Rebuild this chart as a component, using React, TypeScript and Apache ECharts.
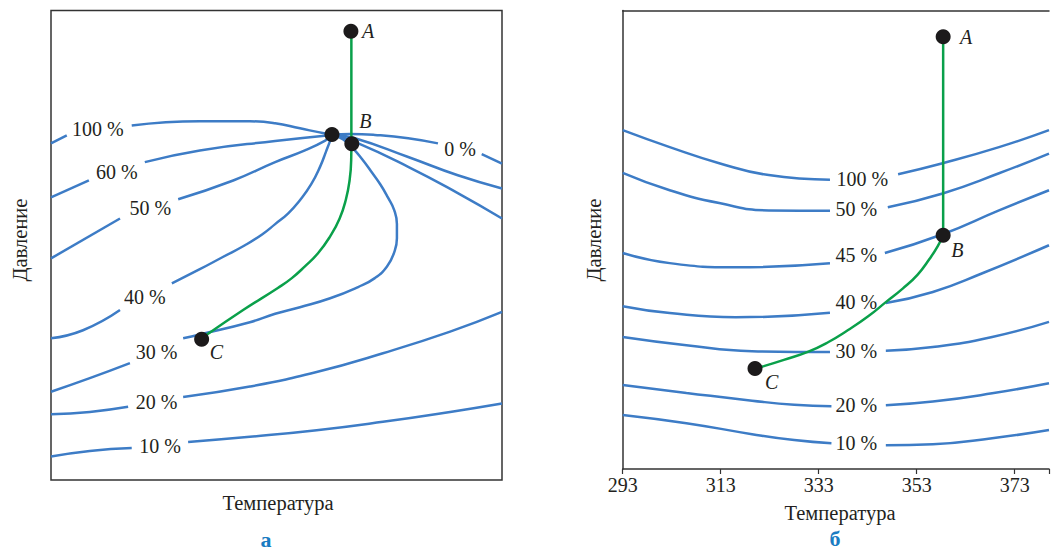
import React, { useEffect, useRef } from 'react';
import * as echarts from 'echarts';

const FONT = 'Liberation Serif, DejaVu Serif, serif';
const BLUE = '#3d7cc6';
const GREEN = '#0aa04a';
const INK = '#231f20';
const DOT = '#1c1a1b';
const LETTER_BLUE = '#1a7cc2';
const AXIS = '#333333';

// Right panel temperature axis
const T0 = 293;
const T_MAX = 380;
const X_TICKS = [293, 313, 333, 353, 373];

// ---------- Panel а (relative temperature 0..100, relative pressure 0..100) ----------
const A_100 = [[[0, 71.7], [3.5, 73.4]], [[17.9, 75.5], [33.0, 76.4], [44.1, 76.4], [49.7, 76.0], [55.2, 74.9], [60.8, 73.8], [62.3, 73.6]]];
const A_60 = [[[0, 60.2], [8.4, 63.8]], [[20.8, 67.7], [33.0, 70.2], [49.7, 72.2], [62.3, 73.5]]];
const A_50 = [[[0, 47.2], [15.3, 55.7]], [[28.2, 59.8], [40.4, 63.8], [49.7, 67.7], [56.3, 70.2], [60.8, 72.3], [62.3, 73.4]]];
const A_40 = [[[0, 30.2], [7.1, 31.9], [15.3, 36.2]], [[26.8, 41.9], [33.0, 44.9], [38.1, 47.5], [43.0, 50.0], [46.8, 52.3], [49.7, 54.5], [52.6, 56.8], [55.2, 59.6], [57.7, 63.0], [59.7, 66.8], [61.0, 70.0], [61.9, 72.3], [62.3, 73.5]]];
const A_30 = [[[0, 18.8], [8.6, 21.7], [17.5, 24.9]], [[29.3, 30.2], [33.0, 31.0], [44.1, 33.6], [49.7, 35.4], [55.2, 36.8], [61.9, 38.7], [68.1, 41.1], [71.8, 43.0], [74.5, 45.5], [76.1, 48.5], [76.7, 51.5], [76.7, 54.5], [76.1, 57.5], [74.7, 60.2], [73.0, 63.0], [71.0, 65.7], [69.0, 68.3], [67.0, 70.6], [64.7, 72.6], [62.3, 73.5]]];
const A_20 = [[[0, 14.0], [8.6, 14.5], [17.1, 15.6]], [[29.3, 17.7], [44.1, 19.9], [58.9, 23.0], [73.6, 27.0], [88.5, 31.6], [100, 35.8]]];
const A_10 = [[[0, 5.0], [8.6, 6.2], [17.9, 6.8]], [[30.4, 8.1], [44.1, 9.2], [58.9, 10.6], [73.6, 12.4], [88.5, 14.5], [100, 16.3]]];
const A_0 = [[[62.3, 73.6], [66.3, 73.7], [71.8, 73.5], [79.2, 72.8], [85.8, 71.7]], [[95.5, 69.4], [100, 67.4]]];
const A_R2 = [[[62.3, 73.6], [67.4, 72.8], [79.2, 68.8], [90.2, 64.9], [100, 62.1]]];
const A_R3 = [[[62.3, 73.6], [67.4, 72.0], [79.2, 66.7], [90.2, 61.1], [100, 55.7]]];
const A_CURVES = [A_100, A_60, A_50, A_40, A_30, A_20, A_10, A_0, A_R2, A_R3];

const A_TAGS = [
  ['100 %', 10.4, 74.7], ['60 %', 14.6, 65.7], ['50 %', 22.0, 57.9], ['40 %', 20.8, 38.9],
  ['30 %', 23.4, 27.3], ['20 %', 23.4, 16.7], ['10 %', 24.2, 7.3], ['0 %', 90.7, 70.6],
];
const A_DOTS = [[66.5, 95.6], [62.3, 73.6], [66.7, 71.6], [33.4, 30.0]];
const A_LETTERS = [['A', 70.3, 95.7], ['B', 69.7, 76.4], ['C', 36.7, 27.3]];
const A_PATH_TOP = [[66.6, 95.6], [66.6, 71.7]];
const A_PATH = [[66.6, 71.7], [66.56, 68.1], [66.2, 63.8], [65.4, 59.8], [64.0, 55.7], [61.9, 51.9], [59.2, 48.3], [56.3, 45.5], [53.4, 43.0], [50.3, 40.9], [42.6, 36.2], [34.5, 30.9], [33.4, 30.0]];

// ---------- Panel б (temperature K, relative pressure 0..100) ----------
const B_100 = [[[293, 73.9], [302.6, 70.2], [312.7, 66.7], [322.8, 64.1], [335.3, 63.1]], [[349.2, 64.3], [358.3, 66.7], [369.8, 70.2], [380, 73.9]]];
const B_50 = [[[293, 64.6], [302.6, 60.8], [312.7, 58.0], [322.8, 56.4], [335.3, 56.3]], [[347.1, 57.1], [358.3, 60.1], [369.8, 64.5], [380, 68.8]]];
const B_45 = [[[293, 47.1], [302.6, 44.9], [316.1, 44.0], [335.3, 44.9]], [[346.5, 47.1], [358.3, 51.2], [369.8, 56.4], [380, 60.8]]];
const B_40 = [[[293, 35.5], [302.6, 34.0], [316.1, 33.1], [335.3, 34.1]], [[346.7, 36.2], [356.3, 38.6], [366.4, 42.7], [380, 48.8]]];
const B_30 = [[[293, 28.8], [306, 27.0], [319.4, 25.7], [335.3, 25.5]], [[346.7, 25.8], [356.3, 26.6], [368.4, 28.8], [380, 32.1]]];
const B_20 = [[[293, 18.3], [306, 16.6], [319.4, 14.9], [328, 14.0], [335.6, 13.7]], [[346.7, 13.9], [356.3, 14.7], [368.4, 16.5], [380, 18.7]]];
const B_10 = [[[293, 11.8], [306, 10.0], [319.4, 7.6], [328, 6.3], [335.6, 5.6]], [[346.7, 5.2], [356.3, 5.4], [368.4, 6.7], [380, 8.5]]];
const B_CURVES = [B_100, B_50, B_45, B_40, B_30, B_20, B_10];

const B_TAGS = [
  ['100 %', 341.9, 63.3], ['50 %', 340.7, 56.8], ['45 %', 340.7, 46.6], ['40 %', 340.7, 36.4],
  ['30 %', 340.7, 25.8], ['20 %', 340.7, 13.9], ['10 %', 340.7, 5.6],
];
const B_DOTS = [[358.4, 94.3], [358.4, 51.0], [320.0, 21.9]];
const B_LETTERS = [['A', 363.1, 94.3], ['B', 361.3, 47.7], ['C', 323.4, 19.0]];
const B_PATH_TOP = [[358.4, 94.3], [358.4, 51.0]];
const B_PATH = [[358.4, 51.0], [357.3, 48.6], [355.6, 45.8], [353.2, 42.4], [350.2, 39.4], [346.7, 36.4], [343.1, 33.3], [339.0, 30.3], [335.0, 27.7], [330.9, 25.6], [325.9, 23.8], [321.4, 22.3], [320.0, 21.9]];

const shiftT = (pts: number[][]) => pts.map((p) => [p[0] - T0, p[1]]);
const shiftTag = (rows: any[]) => rows.map((r) => ({ value: [r[1] - T0, r[2]], name: r[0] }));
const tagRows = (rows: any[]) => rows.map((r) => ({ value: [r[1], r[2]], name: r[0] }));

function line(idx: number, data: number[][], color: string, z: number, smooth: number | boolean = 0.5) {
  return {
    type: 'line', xAxisIndex: idx, yAxisIndex: idx, data, smooth, symbol: 'none', showSymbol: false,
    lineStyle: { color, width: 2.5 }, z, silent: true, animation: false,
  };
}

function tags(idx: number, data: any[], italic: boolean) {
  return {
    type: 'scatter', xAxisIndex: idx, yAxisIndex: idx, data, symbolSize: 1,
    itemStyle: { color: 'rgba(255,255,255,0)', opacity: 1 }, z: 6, silent: true,
    labelLayout: { hideOverlap: false },
    label: {
      show: true, position: 'inside', formatter: (p: any) => p.name,
      fontFamily: FONT, fontSize: 20, color: INK, fontStyle: italic ? 'italic' : 'normal',
    },
  };
}

function dots(idx: number, data: number[][]) {
  return {
    type: 'scatter', xAxisIndex: idx, yAxisIndex: idx, data, symbolSize: 15,
    itemStyle: { color: DOT, opacity: 1 }, z: 5, silent: true,
  };
}

function buildOption() {
  const series: any[] = [];
  A_CURVES.forEach((c) => c.forEach((seg) => series.push(line(0, seg, BLUE, 2))));
  B_CURVES.forEach((c) => c.forEach((seg) => series.push(line(1, shiftT(seg), BLUE, 2))));
  series.push(line(0, A_PATH_TOP, GREEN, 3, false));
  series.push(line(0, A_PATH, GREEN, 3));
  series.push(line(1, shiftT(B_PATH_TOP), GREEN, 3, false));
  series.push(line(1, shiftT(B_PATH), GREEN, 3));
  series.push(dots(0, A_DOTS));
  series.push(dots(1, shiftT(B_DOTS)));
  series.push(tags(0, tagRows(A_TAGS), false));
  series.push(tags(1, shiftTag(B_TAGS), false));
  series.push(tags(0, tagRows(A_LETTERS), true));
  series.push(tags(1, shiftTag(B_LETTERS), true));

  const txt = (text: string, x: number, y: number, extra: any = {}, rot = 0) => ({
    type: 'text', x, y, rotation: rot, silent: true,
    style: {
      text, fill: extra.fill || INK, fontFamily: FONT, fontSize: extra.fontSize || 20.5,
      fontWeight: extra.fontWeight || 'normal',
      align: 'center', verticalAlign: 'middle', textAlign: 'center', textVerticalAlign: 'middle',
    },
  });

  const axisLine = { show: true, lineStyle: { color: AXIS, width: 1.5 } };

  return {
    animation: false,
    backgroundColor: '#ffffff',
    textStyle: { fontFamily: FONT },
    grid: [
      { left: 51, top: 10.5, width: 451, height: 469.5, show: true, borderColor: AXIS, borderWidth: 1.5, backgroundColor: 'transparent' },
      { left: 622.7, top: 10.5, right: 0, height: 458.5, show: false },
    ],
    xAxis: [
      { gridIndex: 0, type: 'value', min: 0, max: 100, show: false },
      {
        gridIndex: 1, type: 'value', min: 0, max: T_MAX - T0, interval: 20,
        axisLine,
        axisTick: { show: true, length: 5, lineStyle: { color: AXIS, width: 1.2 } },
        axisLabel: {
          formatter: (v: number) => (X_TICKS.indexOf(Math.round(v + T0)) >= 0 && v % 20 === 0 ? String(v + T0) : ''),
          fontFamily: FONT, fontSize: 20, color: INK, margin: 6,
        },
        splitLine: { show: false },
      },
      {
        gridIndex: 1, type: 'value', min: 0, max: T_MAX - T0, position: 'top',
        axisLine, axisTick: { show: false }, axisLabel: { show: false }, splitLine: { show: false },
      },
    ],
    yAxis: [
      { gridIndex: 0, type: 'value', min: 0, max: 100, show: false },
      {
        gridIndex: 1, type: 'value', min: 0, max: 100,
        axisLine, axisTick: { show: false }, axisLabel: { show: false }, splitLine: { show: false },
      },
    ],
    graphic: [
      txt('Давление', 20, 240, {}, Math.PI / 2),
      txt('Температура', 278, 503),
      txt('а', 266, 539, { fill: LETTER_BLUE, fontWeight: 'bold', fontSize: 22 }),
      txt('Давление', 594, 240, {}, Math.PI / 2),
      txt('Температура', 840, 513),
      txt('б', 835, 538, { fill: LETTER_BLUE, fontWeight: 'bold', fontSize: 22 }),
    ],
    series,
  };
}

export default function App() {
  const ref = useRef<HTMLDivElement>(null);
  useEffect(() => {
    if (!ref.current) return;
    const chart = echarts.init(ref.current, undefined, { renderer: 'svg' });
    chart.setOption(buildOption() as any);
    return () => chart.dispose();
  }, []);
  return (
    <div
      ref={ref}
      style={{ position: 'fixed', left: 0, top: 0, width: 1052, height: 551, background: '#fff' }}
    />
  );
}
